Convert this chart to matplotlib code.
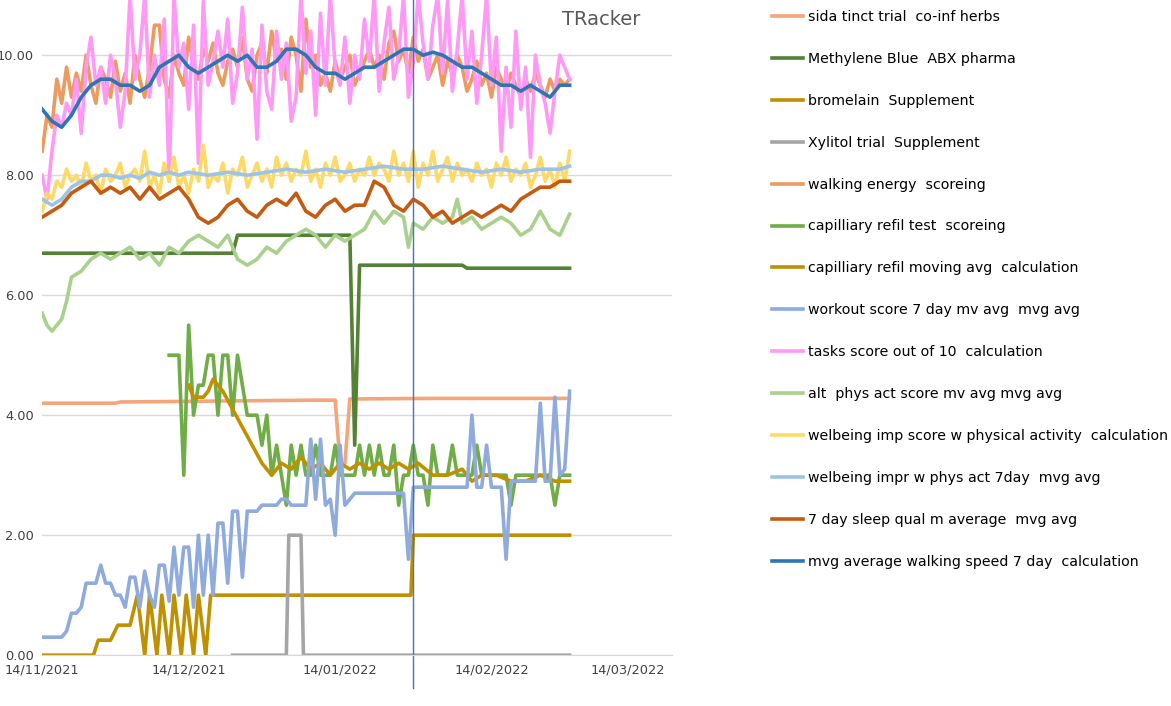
import numpy as np
import matplotlib.pyplot as plt
import matplotlib.dates as mdates
from datetime import datetime

base = mdates.date2num(datetime(2021, 11, 14))

# daily noisy series (day 0 = 14/11/2021)
tasks = [8.0,7.6,8.4,9.0,8.8,9.2,9.0,9.6,8.7,9.8,10.3,9.5,9.8,9.2,10.0,9.6,8.8,9.4,11,9.6,10,11,9.3,10,9.5,10.6,7.9,11,9.8,10.2,
         9.1,10.5,8.2,10.9,9.5,9.9,10.4,9.8,10.6,9.2,9.7,10.8,9.6,10.1,8.6,10.5,9.4,9.1,10.4,9.6,10.2,8.9,9.3,11,9.7,10.4,9.0,10.7,9.5,11,
         9.8,9.5,10.3,9.2,10.0,9.6,10.6,9.9,11,9.4,10.2,10.8,9.6,10.0,11,9.3,9.9,11,10.2,9.6,10.5,11,9.7,10.9,9.4,10.1,11,9.6,10.4,9.2,
         10.0,11,9.5,10.3,8.4,9.8,8.8,10.4,9.1,9.8,8.3,10.0,9.5,9.2,8.7,9.4,10.0,9.8,9.6]
walk_energy = [8.4,9.0,8.8,9.6,9.2,9.8,9.3,9.7,9.4,10.0,9.5,9.2,9.8,9.6,9.3,9.9,9.4,9.7,9.2,10.0,9.6,9.3,9.8,10.5,10.5,9.6,9.3,10.0,9.7,9.5,
               10.3,9.8,9.6,10.1,9.9,10.2,9.7,9.5,9.9,10.1,9.8,10.3,9.6,9.4,10.0,10.2,9.7,10.4,9.9,10.1,9.6,10.3,10.0,9.4,10.6,9.8,10.0,9.5,9.7,9.4,
               9.9,9.6,9.8,10.0,9.5,9.7,9.9,10.1,9.8,10.0,9.6,10.2,10.4,9.9,10.1,9.7,10.3,9.9,10.1,9.6,9.8,10.0,9.5,9.9,9.7,10.0,9.8,9.4,9.6,9.9,
               9.5,9.7,9.3,9.8,9.6,9.4,9.7,9.5,9.3,9.6,9.4,9.7,9.5,9.3,9.6,9.4,9.6,9.5,9.6]
welb_imp = [7.4,7.7,7.6,7.9,7.8,8.1,7.9,8.0,7.8,8.2,7.9,8.0,7.7,8.1,7.9,8.0,8.2,7.8,8.0,8.1,7.9,8.4,7.8,8.0,7.7,8.2,7.9,8.3,7.8,8.0,
            7.7,8.1,7.9,8.5,7.8,8.0,7.9,8.2,7.7,8.1,8.0,8.3,7.8,8.0,8.2,7.9,8.1,7.8,8.3,8.0,8.2,7.9,8.1,8.0,8.4,7.9,8.1,7.8,8.2,8.0,
            8.3,7.9,8.0,8.2,7.9,8.1,8.0,8.3,8.0,8.2,8.1,7.9,8.4,8.0,8.2,7.9,8.4,7.8,8.2,8.0,8.4,7.9,8.1,8.3,7.9,8.2,8.0,8.1,7.9,8.2,
            8.0,8.1,7.8,8.2,8.0,8.3,7.9,8.1,8.0,8.2,7.8,8.0,8.3,7.9,8.1,7.8,8.2,7.9,8.4]
cap_test_start = 26
cap_test = [5.0,5.0,5.0,3.0,5.5,4.0,4.5,4.5,5.0,5.0,4.0,5.0,5.0,4.0,5.0,4.5,4.0,4.0,4.0,3.5,4.0,3.0,3.5,3.0,2.5,3.5,3.0,3.5,3.0,3.0,
            3.5,3.0,3.0,3.0,3.5,3.0,3.0,3.0,3.0,3.5,3.0,3.5,3.0,3.5,3.0,3.0,3.5,2.5,3.0,3.0,3.5,3.0,3.0,2.5,3.5,3.0,3.0,3.0,3.5,3.0,
            3.0,3.0,3.0,3.5,3.0,3.0,3.0,3.0,3.0,3.0,2.5,3.0,3.0,3.0,3.0,3.0,3.0,3.0,3.0,2.5,3.0,3.0,3.0]
workout = ([0.3,0.3,0.3,0.3,0.3,0.4,0.7,0.7,0.8,1.2,1.2,1.2,1.5,1.2,1.2,1.0,1.0,0.8,1.3,1.3,0.8,1.4,1.0,0.8,1.5,1.5,0.9,1.8,1.0,
            1.8,1.8,0.8,2.0,1.0,2.0,1.0,2.2,2.2,1.2,2.4,2.4,1.3,2.4,2.4,2.4,2.5,2.5,2.5,2.5,2.6,2.6,2.5,2.5,
            2.5,2.5,3.6,2.6,3.6,2.5,2.6,2.0,3.5,2.5,2.6] + [2.7]*11 + [1.6] + [2.8]*12 +
           [4.0,2.8,2.8,3.5,2.8,2.8,2.8,1.6] + [2.9]*6 + [4.2,2.9,2.9,4.3,3.0,3.1,4.4])

# (day, value) series
bro_d = [0,10.5,11.5,14,15.5,18,19.5,21,22,23.5,24.5,26,27,28.5,29.5,31,32,33.5,34.5,75.5,76,108]
bro_v = [0,0,0.25,0.25,0.5,0.5,1,0,1,0,1,0,1,0,1,0,1,0,1,1,2,2]
meth_d = [0,39,40,63,64,65,86,87,108]
meth_v = [6.7,6.7,7.0,7.0,3.5,6.5,6.5,6.45,6.45]
sida_d = [0,15,16,55,60,61,62,63,80,108]
sida_v = [4.2,4.2,4.22,4.25,4.25,3.2,3.2,4.27,4.28,4.28]
xyl_d = [39,50,50.5,53,53.5,108]
xyl_v = [0,0,2,2,0,0]
capavg_d = [30,31,33,34,35,37,39,41,43,45,47,49,51,53,55,57,59,61,63,65,67,69,71,73,75,77,80,83,86,88,90,93,96,99,102,105,108]
capavg_v = [4.5,4.3,4.3,4.4,4.6,4.4,4.1,3.8,3.5,3.2,3.0,3.2,3.1,3.3,3.1,3.2,3.0,3.2,3.1,3.2,3.1,3.2,3.1,3.2,3.1,3.2,3.0,3.0,3.1,2.9,3.0,3.0,2.9,2.9,3.0,2.9,2.9]
alt_d = [0,1,2,4,5,6,8,10,12,14,16,18,20,22,24,26,28,30,32,34,36,38,40,42,44,46,48,50,52,54,56,58,60,62,64,66,68,70,72,74,75,76,
         78,80,82,84,85,86,88,90,92,94,96,98,100,102,104,106,108]
alt_v = [5.7,5.5,5.4,5.6,5.9,6.3,6.4,6.6,6.7,6.6,6.7,6.8,6.6,6.7,6.5,6.8,6.7,6.9,7.0,6.9,6.8,7.0,6.6,6.5,6.6,6.8,6.7,6.9,7.0,7.1,
         7.0,6.8,7.0,6.9,7.0,7.1,7.4,7.2,7.4,7.3,6.8,7.2,7.1,7.3,7.2,7.3,7.6,7.2,7.3,7.1,7.2,7.3,7.2,7.0,7.1,7.4,7.1,7.0,7.35]
w7_d = [0,2,4,6,8,10,12,14,16,18,20,22,24,26,28,30,34,38,42,46,50,54,58,62,66,70,74,78,82,86,90,94,98,102,106,108]
w7_v = [7.6,7.5,7.6,7.8,7.9,7.9,8.0,8.0,7.95,8.0,7.95,8.05,8.0,8.05,8.0,8.05,8.0,8.05,8.0,8.05,8.1,8.05,8.1,8.05,8.1,8.15,
        8.1,8.1,8.15,8.1,8.05,8.1,8.05,8.1,8.1,8.15]
even_d = list(range(0, 109, 2))
sleep_v = [7.3,7.4,7.5,7.7,7.8,7.9,7.7,7.8,7.7,7.8,7.6,7.8,7.6,7.7,7.8,7.6,7.3,7.2,7.3,7.5,7.6,7.4,7.3,7.5,7.6,7.5,7.7,7.4,
           7.3,7.5,7.6,7.4,7.5,7.5,7.9,7.8,7.5,7.4,7.6,7.5,7.3,7.4,7.2,7.3,7.4,7.3,7.4,7.5,7.4,7.6,7.7,7.8,7.8,7.9,7.9]
speed_v = [9.1,8.9,8.8,9.0,9.3,9.5,9.6,9.6,9.5,9.5,9.4,9.5,9.8,9.9,10.0,9.8,9.7,9.8,9.9,10.0,9.9,10.0,9.8,9.8,9.9,10.1,10.1,
           10.0,9.8,9.7,9.7,9.6,9.7,9.8,9.8,9.9,10.0,10.1,10.1,10.0,10.05,10.0,9.9,9.8,9.8,9.7,9.6,9.5,9.5,9.4,9.5,9.4,9.3,9.5,9.5]

marker_day = 76


def daily(vals, start=0):
    return base + start + np.arange(len(vals))


def pts(days):
    return base + np.array(days, dtype=float)


fig = plt.figure(figsize=(11.71, 7.06), dpi=100)
ax = fig.add_axes([0.036, 0.072, 0.538, 0.928])

series = [
    (pts(sida_d), sida_v, '#F4A57A', 'sida tinct trial  co-inf herbs'),
    (pts(meth_d), meth_v, '#548235', 'Methylene Blue  ABX pharma'),
    (pts(bro_d), bro_v, '#BF9000', 'bromelain  Supplement'),
    (pts(xyl_d), xyl_v, '#A5A5A5', 'Xylitol trial  Supplement'),
    (daily(walk_energy), walk_energy, '#ED9A5E', 'walking energy  scoreing'),
    (daily(cap_test, cap_test_start), cap_test, '#70AD47', 'capilliary refil test  scoreing'),
    (pts(capavg_d), capavg_v, '#BF9000', 'capilliary refil moving avg  calculation'),
    (daily(workout), workout, '#8FAADC', 'workout score 7 day mv avg  mvg avg'),
    (daily(tasks), tasks, '#FF99F5', 'tasks score out of 10  calculation'),
    (pts(alt_d), alt_v, '#A9D18E', 'alt  phys act score mv avg mvg avg'),
    (daily(welb_imp), welb_imp, '#FFD966', 'welbeing imp score w physical activity  calculation'),
    (pts(w7_d), w7_v, '#9DC3E6', 'welbeing impr w phys act 7day  mvg avg'),
    (pts(even_d), sleep_v, '#C55A11', '7 day sleep qual m average  mvg avg'),
    (pts(even_d), speed_v, '#2E75B6', 'mvg average walking speed 7 day  calculation'),
]
for x, y, c, lab in series:
    ax.plot(x, y, color=c, lw=2.6, label=lab)

ax.axvline(base + marker_day, ymin=-0.05, ymax=1, color='#4472C4', lw=1, clip_on=False)

ax.set_ylim(0, 10.92)
ax.set_xlim(base, base + 129)
ax.set_yticks(np.arange(0, 11, 2))
ax.yaxis.set_major_formatter(plt.FormatStrFormatter('%.2f'))
ticks = [mdates.date2num(datetime(y, m, 14)) for y, m in [(2021, 11), (2021, 12), (2022, 1), (2022, 2), (2022, 3)]]
ax.set_xticks(ticks)
ax.xaxis.set_major_formatter(mdates.DateFormatter('%d/%m/%Y'))
ax.tick_params(length=0, labelsize=9.3, colors='#404040', pad=6)
ax.grid(axis='y', color='#D9D9D9', lw=1)
for s in ['top', 'right', 'left']:
    ax.spines[s].set_visible(False)
ax.spines['bottom'].set_color('#D9D9D9')
ax.text(0.95, 0.985, 'TRacker', transform=ax.transAxes, fontsize=14, color='#595959', ha='right', va='top')

fig.legend(loc='upper left', bbox_to_anchor=(0.648, 1.004), frameon=False, fontsize=10.2,
           labelspacing=1.97, handlelength=2.2, handletextpad=0.4)

fig.savefig('out.png')
